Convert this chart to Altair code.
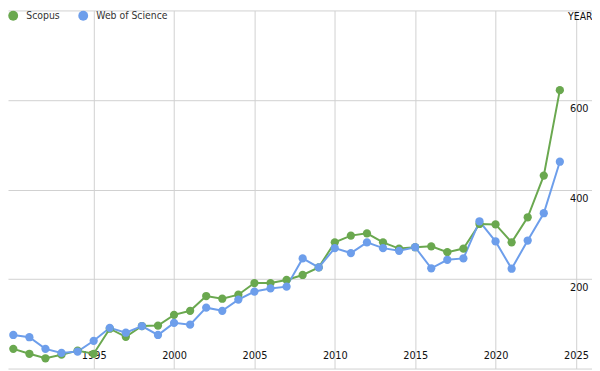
import altair as alt
import pandas as pd

years = list(range(1990, 2025))
scopus = [44, 33, 23, 31, 40, 33, 89, 71, 95, 96, 120, 129, 162, 156, 165, 191, 191, 198,
          209, 226, 282, 297, 302, 282, 268, 271, 273, 260, 268, 323, 322, 282, 338, 431, 622]
wos = [75, 70, 44, 35, 38, 62, 91, 80, 95, 75, 102, 98, 136, 129, 154, 172, 179, 183,
       246, 226, 269, 258, 282, 269, 263, 271, 224, 243, 246, 329, 284, 223, 286, 347, 462]
series = ["Scopus", "Web of Science"]
colors = ["#6aa84f", "#6d9eeb"]
x_ticks = [1995, 2000, 2005, 2010, 2015, 2020, 2025]
y_ticks = [0, 200, 400, 600, 800]

rows = []
for name, vals in zip(series, [scopus, wos]):
    for y, v in zip(years, vals):
        rows.append({"year": y, "value": v, "series": name, "order": series.index(name)})
df = pd.DataFrame(rows)

W, H = 592, 363
FONT = "DejaVu Sans Condensed"

x = alt.X("year:Q",
          scale=alt.Scale(domain=[1989.67, 2026.0], nice=False, zero=False),
          axis=alt.Axis(values=x_ticks, format="d", domain=False, ticks=False,
                        labelPadding=-19, labelFontSize=11, labelColor="#111",
                        gridColor="#d0d0d0", title="YEAR", titleFontSize=10.5,
                        titleFontWeight="normal", titleColor="#111",
                        titleAlign="right", titleBaseline="top",
                        titleX=W, titleY=-H + 1, titleAnchor="end"))
y = alt.Y("value:Q",
          scale=alt.Scale(domain=[0, 800], nice=False),
          axis=alt.Axis(values=y_ticks, orient="right", domain=False, ticks=False,
                        labelAlign="right", labelBaseline="top", labelPadding=-4,
                        labelOffset=3, labelFontSize=11, labelColor="#111",
                        labelExpr="datum.value == 0 || datum.value == 800 ? '' : datum.label",
                        gridColor="#d0d0d0", title=None))
color_scale = alt.Scale(domain=series, range=colors)

base = alt.Chart(df)
lines = base.mark_line(strokeWidth=2).encode(
    x=x, y=y,
    color=alt.Color("series:N", scale=color_scale, legend=None),
    detail="series:N",
)
points = base.mark_circle(size=70, opacity=1).encode(
    x=x, y=y,
    color=alt.Color("series:N", scale=color_scale,
                    legend=alt.Legend(orient="none", legendX=0, legendY=0, direction="horizontal",
                                      title=None, symbolType="circle", symbolSize=100,
                                      labelFont=FONT, labelFontSize=10.5, labelColor="#333",
                                      columnPadding=18, symbolStrokeWidth=0, labelOffset=8)),
    order="order:Q",
)

chart = alt.layer(lines, points).resolve_legend(color="independent").properties(
    width=W, height=H, padding=0, autosize=alt.AutoSizeParams(type="none")
).configure(font=FONT).configure_view(stroke=None).configure_axis(labelFont=FONT, titleFont=FONT)

chart.save("out.html", embed_options={"renderer": "svg", "actions": False})
